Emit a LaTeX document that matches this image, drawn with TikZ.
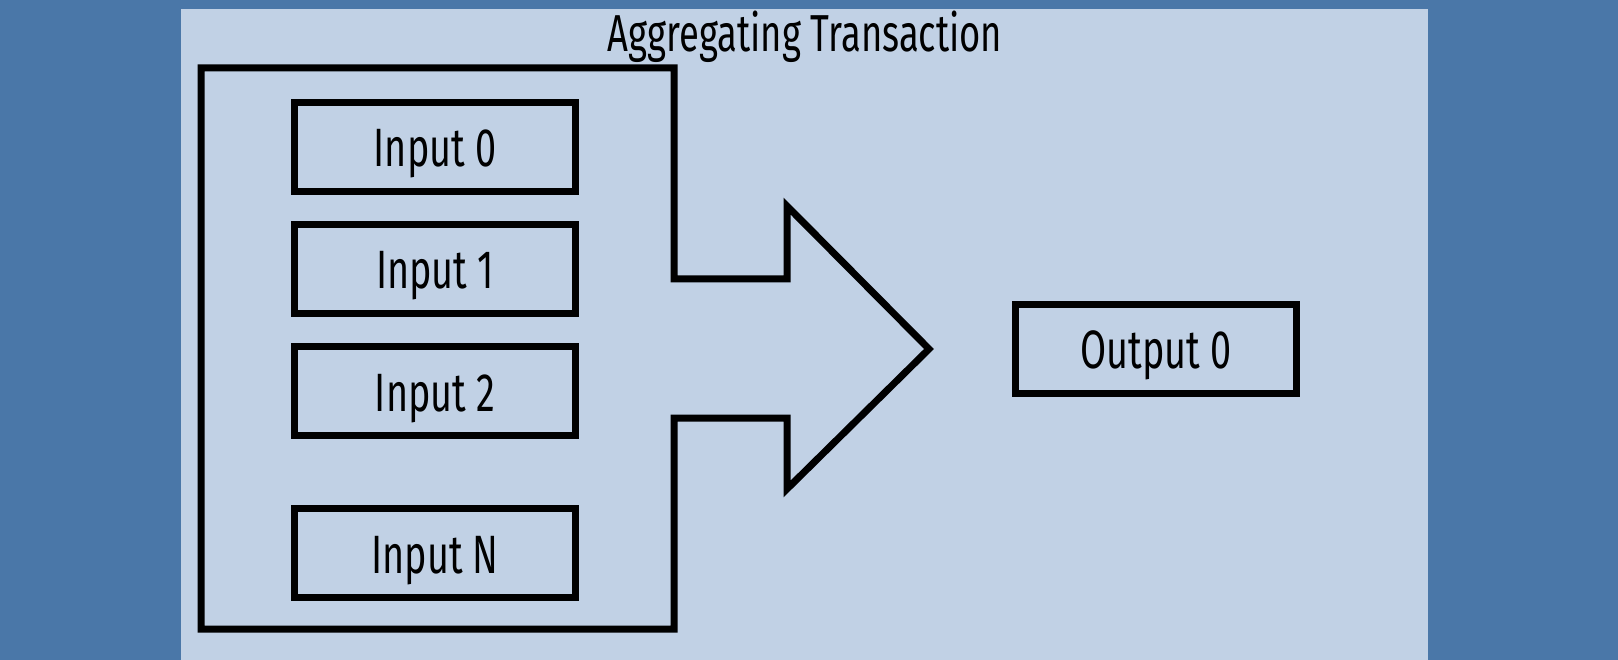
\documentclass[tikz,border=0pt]{standalone}
\usepackage{fontspec}
\setmainfont[FakeStretch=0.70]{Fira Sans}
\definecolor{outerbg}{HTML}{4A77A8}
\definecolor{panelbg}{HTML}{C1D1E5}
\begin{document}
\begin{tikzpicture}[x=1pt,y=-1pt,
  box/.style={draw=black,line width=7pt,minimum width=281pt,minimum height=89pt,inner sep=0pt,text height=44pt,text depth=4pt,font=\fontsize{54}{64}\selectfont},
  shapeline/.style={draw=black,line width=7pt,line join=miter}]
\fill[outerbg] (0,0) rectangle (1618,660);
\fill[panelbg] (181,9) rectangle (1428,660);
\useasboundingbox (0,0) rectangle (1618,660);
\node[font=\fontsize{52}{62}\selectfont,inner sep=0pt] (title) at (805,37) {Aggregating Transaction};
\coordinate (p1) at (201,68);
\coordinate (p2) at (674,68);
\coordinate (p3) at (674,279);
\coordinate (p4) at (787,279);
\coordinate (p5) at (787,206);
\coordinate (tip) at (929,349);
\coordinate (p6) at (787,489);
\coordinate (p7) at (787,418);
\coordinate (p8) at (674,418);
\coordinate (p9) at (674,629);
\coordinate (p10) at (201,629);
\draw[shapeline] (p1) -- (p2) -- (p3) -- (p4) -- (p5) -- (tip) -- (p6) -- (p7) -- (p8) -- (p9) -- (p10) -- cycle;
\node[box] (in0) at (435,147) {Input 0};
\node[box] (in1) at (435,269) {Input 1};
\node[box] (in2) at (435,391) {Input 2};
\node[box] (inN) at (435,553) {Input N};
\node[box] (out0) at (1156,349) {Output 0};
\end{tikzpicture}
\end{document}
